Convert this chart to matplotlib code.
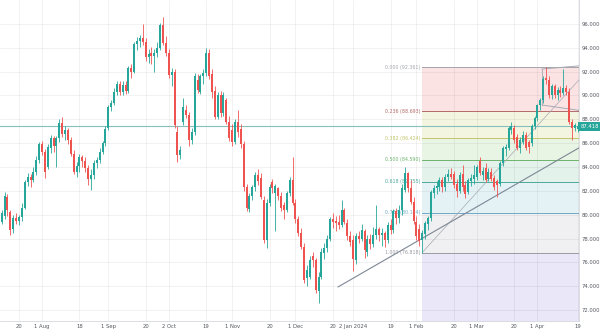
import matplotlib
matplotlib.use("Agg")
import matplotlib.pyplot as plt
import pandas as pd
import numpy as np

# daily sessions, Christmas and New Year closed
days = pd.bdate_range("2023-07-12", "2024-04-19")
days = days[~days.isin(pd.to_datetime(["2023-12-25", "2024-01-01"]))]

opens = [
    79.4, 79.9, 81.5, 80.2, 78.8, 79.7, 79.5, 79.8, 80.6, 82.7, 83.2, 82.9, 83.6, 84.6,
    85.9, 85.3, 84.0, 85.6, 86.4, 85.8, 86.4, 87.7, 86.8, 87.1, 86.3, 85.1, 83.6, 84.1, 84.8, 84.5, 83.9, 83.0, 83.3, 84.3, 84.6, 85.3, 86.0,
    87.3, 89.0, 89.4, 90.3, 91.0, 90.3, 90.9, 90.4, 92.3, 92.0, 94.3, 94.6, 94.8, 94.5, 93.2, 93.6, 93.3, 93.6, 94.0, 95.9, 94.4,
    93.6, 91.7, 92.0, 86.9, 85.0, 87.8, 88.8, 88.4, 86.3, 86.9, 91.3, 90.3, 91.6, 91.9, 93.6, 91.8, 90.4, 88.2, 90.0, 88.5, 89.6, 87.8,
    87.1, 86.1, 87.8, 87.2, 85.9, 82.3, 80.5, 81.6, 82.3, 83.3, 83.1, 81.2, 77.9, 81.0, 82.7, 81.8, 82.2, 81.6, 80.8, 80.4, 81.8, 82.9,
    81.0, 79.6, 78.5, 77.3, 74.7, 74.8, 76.5, 76.2, 73.6, 74.8, 76.8, 77.2, 78.0, 79.6, 79.5, 79.4, 79.1, 80.4, 79.3, 78.2,
    77.9, 76.2, 78.2, 78.0, 78.6, 76.9, 78.0, 77.5, 78.3, 78.8, 78.3, 78.5, 77.9, 79.1, 78.7, 80.3, 79.7, 80.4, 82.1, 83.5, 82.2, 81.1,
    79.4, 78.8, 77.9, 78.4, 79.2, 79.7, 81.8, 82.2, 82.3, 82.9, 82.3, 83.2, 83.4, 83.4, 82.6, 82.0, 83.4, 82.5, 81.9, 82.8, 83.0,
    83.2, 84.5, 83.3, 83.9, 83.0, 83.6, 83.1, 82.8, 82.6, 84.3, 85.5, 85.6, 87.1, 87.3, 86.5, 85.6, 86.1, 86.7, 86.1, 86.0, 87.4,
    88.1, 89.2, 89.6, 91.5, 91.3, 90.0, 90.8, 90.0, 90.5, 90.2, 90.6, 90.3, 87.8, 87.3, 87.2,
]
highs = [
    80.4, 81.9, 81.7, 80.4, 80.0, 80.1, 80.0, 81.0, 82.9, 83.5, 83.4, 84.0, 84.9, 86.1,
    86.2, 85.5, 85.9, 86.7, 86.6, 86.6, 88.0, 88.2, 87.4, 87.3, 86.5, 85.4, 84.4, 85.1, 85.0, 84.8, 84.2, 83.8, 84.6, 84.8, 85.6, 86.2, 87.4,
    89.2, 89.6, 90.6, 91.2, 91.2, 91.2, 91.2, 92.5, 92.6, 94.5, 94.9, 95.1, 96.0, 94.8, 93.9, 94.1, 93.9, 94.5, 96.1, 96.6, 95.0,
    93.9, 92.3, 92.2, 87.4, 85.8, 89.8, 89.2, 88.6, 87.3, 91.9, 91.8, 91.8, 92.2, 94.0, 93.9, 92.2, 90.8, 90.3, 90.4, 90.3, 89.8, 88.3,
    87.6, 88.0, 88.8, 87.6, 86.2, 82.6, 81.8, 82.5, 83.6, 83.8, 83.5, 81.6, 81.3, 82.6, 83.0, 82.6, 82.3, 81.9, 81.1, 82.0, 83.2, 84.8,
    81.3, 79.9, 78.9, 77.6, 75.8, 76.5, 76.9, 76.4, 75.2, 77.2, 77.6, 78.3, 79.8, 80.1, 79.9, 80.0, 81.2, 80.6, 79.6, 78.6,
    78.3, 78.5, 78.6, 79.2, 78.8, 78.3, 78.4, 79.0, 80.8, 79.0, 78.9, 78.6, 79.4, 79.6, 80.5, 80.6, 80.8, 82.6, 84.0, 83.6, 82.9, 81.5,
    79.9, 79.2, 78.7, 79.5, 79.9, 82.1, 82.5, 82.8, 83.2, 83.2, 83.4, 83.8, 83.9, 83.7, 83.0, 83.6, 84.2, 82.8, 83.1, 83.4, 84.2,
    84.2, 84.8, 84.0, 84.3, 83.9, 83.9, 83.3, 83.0, 84.5, 85.8, 85.9, 87.4, 87.8, 87.5, 86.8, 86.5, 87.0, 86.9, 86.3, 87.6, 88.3,
    89.3, 89.8, 91.6, 92.361, 91.6, 91.0, 91.0, 90.7, 90.8, 92.2, 90.9, 90.6, 88.0, 87.7, 87.8,
]
lows = [
    79.2, 79.6, 79.9, 78.3, 78.5, 79.2, 79.1, 79.5, 80.5, 82.4, 82.3, 82.7, 83.3, 84.3,
    85.0, 83.1, 83.8, 85.2, 85.3, 84.0, 86.1, 86.5, 86.3, 85.9, 84.9, 83.4, 83.2, 83.6, 84.0, 83.6, 82.5, 82.1, 83.0, 83.9, 84.3, 85.1, 85.8,
    87.1, 88.7, 89.2, 90.0, 90.0, 90.0, 90.1, 90.2, 91.5, 91.9, 93.8, 94.1, 94.2, 92.9, 92.7, 92.6, 92.0, 93.2, 93.8, 94.2, 93.3,
    91.5, 90.8, 87.3, 84.4, 84.7, 87.5, 88.1, 85.8, 85.9, 86.7, 90.2, 90.1, 91.0, 91.6, 91.4, 89.8, 88.0, 88.0, 88.2, 88.3, 87.6, 86.2,
    85.8, 85.9, 86.5, 85.6, 82.0, 80.3, 80.2, 81.2, 82.0, 82.5, 81.3, 77.6, 77.2, 80.7, 81.8, 78.6, 81.2, 80.3, 79.6, 80.2, 81.6, 80.8,
    79.3, 78.2, 77.1, 74.3, 74.0, 74.6, 75.6, 73.4, 72.6, 74.6, 76.3, 76.9, 77.8, 78.9, 78.6, 78.8, 79.0, 79.2, 77.9, 77.4,
    75.3, 75.9, 77.6, 77.8, 76.4, 76.5, 77.1, 77.3, 78.0, 77.8, 77.4, 77.3, 77.6, 78.4, 78.5, 79.2, 79.3, 80.0, 81.9, 81.9, 80.9, 79.2,
    77.9, 77.4, 76.818, 78.0, 78.7, 79.5, 81.4, 81.7, 82.0, 81.9, 82.0, 82.8, 83.0, 82.2, 81.5, 81.8, 82.0, 81.4, 81.7, 82.4, 82.6,
    82.9, 83.3, 82.9, 82.7, 82.8, 82.8, 82.1, 81.5, 82.4, 84.1, 84.9, 85.4, 86.8, 86.0, 85.4, 85.2, 85.9, 85.4, 85.2, 85.8, 87.2,
    87.9, 88.8, 89.4, 91.0, 89.8, 89.7, 89.8, 89.6, 89.9, 90.0, 90.0, 87.6, 86.3, 87.0, 86.9,
]
closes = [
    80.1, 81.6, 80.4, 78.7, 79.7, 79.5, 79.8, 80.6, 82.7, 83.2, 82.9, 83.6, 84.6, 85.9,
    85.3, 83.6, 85.7, 86.4, 85.8, 86.4, 87.7, 86.8, 87.1, 86.3, 85.1, 83.6, 84.1, 84.8, 84.5, 83.9, 83.0, 83.3, 84.3, 84.6, 85.3, 86.0, 87.2,
    89.0, 89.4, 90.3, 91.0, 90.3, 90.9, 90.4, 92.3, 92.0, 94.3, 94.6, 94.8, 94.5, 93.2, 93.5, 93.3, 93.6, 94.0, 95.9, 94.4, 93.6,
    91.7, 92.0, 87.5, 85.0, 85.4, 89.0, 88.4, 86.3, 86.9, 91.6, 90.5, 91.6, 91.9, 93.6, 91.6, 90.3, 88.2, 90.0, 88.5, 90.0, 87.8, 86.4,
    86.1, 87.8, 86.9, 85.9, 82.3, 80.6, 81.6, 82.3, 83.3, 82.8, 81.5, 77.9, 81.0, 82.3, 82.2, 82.4, 81.6, 80.6, 80.4, 81.8, 82.9, 81.0,
    79.6, 78.5, 77.3, 74.5, 75.4, 76.2, 76.2, 73.7, 74.8, 76.9, 77.2, 78.0, 79.6, 79.4, 79.3, 79.1, 80.4, 79.4, 78.2, 77.7,
    76.3, 78.2, 78.0, 78.7, 77.0, 78.0, 77.5, 78.3, 78.8, 78.3, 78.5, 77.9, 79.1, 78.7, 80.3, 79.7, 80.4, 82.2, 83.5, 82.2, 81.1, 79.5,
    78.2, 77.8, 78.5, 79.3, 79.7, 81.9, 82.2, 82.4, 82.9, 82.3, 83.2, 83.4, 83.2, 82.5, 82.0, 83.3, 82.3, 81.7, 82.9, 83.1, 83.3,
    84.0, 83.5, 83.7, 82.9, 83.6, 83.0, 82.3, 82.5, 84.3, 85.6, 85.7, 87.3, 87.4, 86.3, 85.6, 86.3, 86.7, 85.6, 85.7, 87.4, 88.1,
    89.2, 89.6, 91.4, 91.3, 90.0, 90.8, 90.0, 90.5, 90.2, 90.6, 90.3, 87.8, 87.3, 87.5, 87.418,
]

tick_dates = ["2023-07-20", "2023-08-01", "2023-08-18", "2023-09-01", "2023-09-20",
              "2023-10-02", "2023-10-19", "2023-11-01", "2023-11-20", "2023-12-01",
              "2023-12-20", "2024-01-02", "2024-01-19", "2024-02-01", "2024-02-20",
              "2024-03-01", "2024-03-20", "2024-04-01", "2024-04-19"]
tick_names = ["20", "1 Aug", "18", "1 Sep", "20", "2 Oct", "19", "1 Nov", "20", "1 Dec",
              "20", "2 Jan 2024", "19", "1 Feb", "20", "1 Mar", "20", "1 Apr", "19"]

# fibonacci retracement, anchored on the Feb low and April high
fib_start = "2024-02-05"
fib_levels = [0.0, 0.236, 0.382, 0.5, 0.618, 0.786, 1.0, 1.618]
fib_line_colors = ["#a3a6ae", "#b36a69", "#c3c46c", "#6db36d", "#4ea89a", "#6fa8c8", "#9a9ca4", "#7b6fd8"]
fib_fill_colors = ["#fbe3e4", "#f4f5e0", "#e8f4e4", "#e3f2eb", "#e4f2f6", "#f0f0f2", "#e9e7f8"]

# hand-drawn lines: (bar position, price) anchors
trend_x, trend_y = [116.8, 200.4], [73.94, 85.6]
ray_x, ray_y = [146.0, 200.4], [76.818, 91.3]
flag_x = [187.6, 200.4]
flag_top, flag_bottom = [92.22, 92.48], [89.2, 88.75]

up, down = "#26a69a", "#ef5350"

o, h, l, c = map(np.array, (opens, highs, lows, closes))
x = np.arange(len(days))
assert len(x) == len(o) == len(h) == len(l) == len(c)

fig = plt.figure(figsize=(6, 3.31), dpi=100)
ax = fig.add_axes([0, 10 / 331, 579 / 600, 321 / 331])
x0 = int(np.where(days == pd.Timestamp("2023-07-20"))[0][0])
xmin, xmax = x0 - 19 / 2.88, x0 + 560 / 2.88
ax.set_xlim(xmin, xmax)
ax.set_ylim(71.08, 98.01)

# grid
ticks = [int(np.where(days == pd.Timestamp(d))[0][0]) for d in tick_dates]
for t in ticks:
    ax.axvline(t, color="#000000", alpha=0.06, lw=0.6, zorder=1)
for v in range(72, 97, 2):
    ax.axhline(v, color="#000000", alpha=0.06, lw=0.6, zorder=1)

# fib bands and levels
fs = int(np.where(days == pd.Timestamp(fib_start))[0][0])
sel = x >= fs - 1
hi, lo = h[sel].max(), l[sel].min()
prices = [hi - lv * (hi - lo) for lv in fib_levels]
for k in range(len(prices) - 1):
    ax.fill_between([fs, xmax], prices[k + 1], prices[k], color=fib_fill_colors[k], lw=0, zorder=0.5)
for k, (lv, p) in enumerate(zip(fib_levels[:-1], prices[:-1])):
    ax.plot([fs, xmax], [p, p], color=fib_line_colors[k], lw=0.7, zorder=2)
    ax.text(fs - 0.6, p, f"{lv:.3f} ({round(p + 1e-9, 3):.3f})", color=fib_line_colors[k],
            fontsize=3.4, ha="right", va="center", zorder=3)

# drawings
ax.plot(ray_x, ray_y, color="#a7aab2", lw=0.5, zorder=2)
ax.plot(trend_x, trend_y, color="#7d8794", lw=0.8, zorder=2)
ax.plot(flag_x, flag_top, color="#a7aab2", lw=0.7, zorder=2)
ax.plot(flag_x, flag_bottom, color="#a7aab2", lw=0.7, zorder=2)
ax.plot([flag_x[0], flag_x[0]], [flag_bottom[0], flag_top[0]], color="#a7aab2", lw=0.6, zorder=2)

# last price line
last = c[-1]
ax.axhline(last, color="#86c0bc", lw=0.8, zorder=2)

# candles
cols = np.where(c >= o, up, down)
ax.vlines(x, l, h, colors=cols, lw=0.6, zorder=4)
body = np.maximum(np.abs(c - o), 0.04)
ax.bar(x, body, bottom=np.minimum(o, c), width=0.7, color=cols, lw=0, zorder=5)

# axes
for s in ["top", "left"]:
    ax.spines[s].set_visible(False)
for s in ["right", "bottom"]:
    ax.spines[s].set_color("#d6d8de")
    ax.spines[s].set_linewidth(0.6)
ax.yaxis.tick_right()
ax.set_yticks(range(72, 97, 2))
ax.set_yticklabels([f"{v:.3f}" for v in range(72, 97, 2)])
ax.set_xticks(ticks)
ax.set_xticklabels(tick_names)
ax.tick_params(axis="both", length=0, labelsize=3.8, colors="#55585f", pad=2)

ax.text(1.002, last, f"{last:.3f}", transform=ax.get_yaxis_transform(), fontsize=3.8,
        color="white", ha="left", va="center", zorder=6,
        bbox=dict(boxstyle="square,pad=0.35", fc=up, ec="none"))

fig.savefig("out.png", dpi=100)
